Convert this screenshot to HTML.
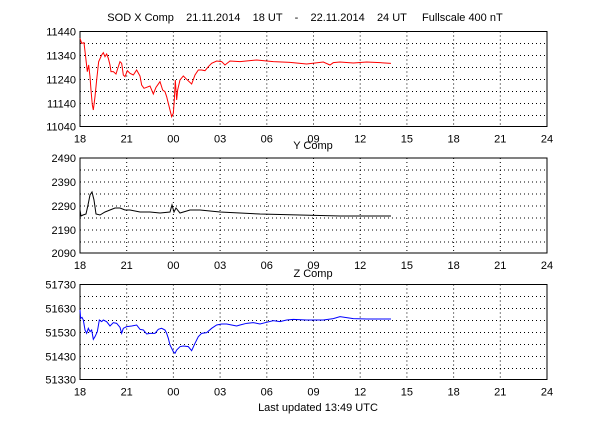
<!DOCTYPE html>
<html><head><meta charset="utf-8"><style>
html,body{margin:0;padding:0;background:#fff;width:610px;height:426px;overflow:hidden}
svg{font-family:"Liberation Sans",Arial,sans-serif;font-size:11px}
</style></head><body>
<svg width="610" height="426" viewBox="0 0 610 426" xmlns="http://www.w3.org/2000/svg">
<defs>
<g id="grid" stroke="#000" stroke-width="1" stroke-dasharray="1,3" fill="none">
<line x1="80" y1="12" x2="547" y2="12"/><line x1="80" y1="24" x2="547" y2="24"/><line x1="80" y1="36" x2="547" y2="36"/><line x1="80" y1="48" x2="547" y2="48"/><line x1="80" y1="60" x2="547" y2="60"/><line x1="80" y1="72" x2="547" y2="72"/><line x1="80" y1="84" x2="547" y2="84"/>
<line x1="126.7" y1="0" x2="126.7" y2="95"/><line x1="173.4" y1="0" x2="173.4" y2="95"/><line x1="220.1" y1="0" x2="220.1" y2="95"/><line x1="266.8" y1="0" x2="266.8" y2="95"/><line x1="313.5" y1="0" x2="313.5" y2="95"/><line x1="360.2" y1="0" x2="360.2" y2="95"/><line x1="406.9" y1="0" x2="406.9" y2="95"/><line x1="453.6" y1="0" x2="453.6" y2="95"/><line x1="500.3" y1="0" x2="500.3" y2="95"/>
</g>
<g id="xt" text-anchor="middle">
<text x="80" y="111">18</text><text x="126.7" y="111">21</text><text x="173.4" y="111">00</text><text x="220.1" y="111">03</text><text x="266.8" y="111">06</text><text x="313.5" y="111">09</text><text x="360.2" y="111">12</text><text x="406.9" y="111">15</text><text x="453.6" y="111">18</text><text x="500.3" y="111">21</text><text x="547" y="111">24</text>
</g>
</defs>
<text x="305" y="21" text-anchor="middle" xml:space="preserve">SOD X Comp    21.11.2014    18 UT    -    22.11.2014    24 UT     Fullscale 400 nT</text>

<g transform="translate(0,31.5)">
<use href="#grid"/>
<rect x="80" y="0" width="467" height="95" fill="none" stroke="#000"/>
<use href="#xt"/>
<g text-anchor="end"><text x="76" y="4">11440</text><text x="76" y="28">11340</text><text x="76" y="52">11240</text><text x="76" y="76">11140</text><text x="76" y="99">11040</text></g>
</g>
<polyline transform="translate(40,0) scale(0.3333)" vector-effect="non-scaling-stroke" fill="none" stroke="#f00" stroke-width="1" points="120,115 125,130 132,128 138,180 142,215 146,195 150,230 153,270 157,315 160,330 165,290 170,240 176,185 185,165 190,158 195,170 200,162 205,175 210,195 213,215 220,215 228,222 235,200 240,185 245,190 250,225 255,230 262,212 270,220 280,225 290,210 300,228 305,255 312,265 320,262 330,258 340,282 348,262 360,245 368,270 375,275 380,290 385,310 390,330 395,350 400,340 403,300 406,240 410,300 413,270 420,240 430,228 440,238 455,252 465,225 475,210 485,210 495,212 505,200 515,190 530,183 545,185 555,195 570,183 600,185 650,180 700,185 750,187 800,192 850,186 870,195 880,188 900,186 940,189 980,186 1020,188 1053,190"/>
<text x="313" y="149" text-anchor="middle">Y Comp</text>

<g transform="translate(0,158)">
<use href="#grid"/>
<rect x="80" y="0" width="467" height="95" fill="none" stroke="#000"/>
<use href="#xt"/>
<g text-anchor="end"><text x="76" y="4">2490</text><text x="76" y="28">2390</text><text x="76" y="52">2290</text><text x="76" y="76">2190</text><text x="76" y="99">2090</text></g>
</g>
<polyline fill="none" stroke="#000" stroke-width="1" points="80,210 81,216 83,215 86,214 88,205 90,195 92,192 94,200 96,214 100,215 105,212 110,210 115,208 120,208 125,210 130,210 140,212 150,212 160,213 170,212 172,205 174,212 176,208 180,213 190,210 200,210 220,212 240,213 260,214 300,215 340,216 391,216"/>
<text x="313" y="277" text-anchor="middle">Z Comp</text>

<g transform="translate(0,284.5)">
<use href="#grid"/>
<rect x="80" y="0" width="467" height="95" fill="none" stroke="#000"/>
<use href="#xt"/>
<g text-anchor="end"><text x="76" y="4">51730</text><text x="76" y="28">51630</text><text x="76" y="52">51530</text><text x="76" y="76">51430</text><text x="76" y="99">51330</text></g>
</g>
<polyline transform="translate(40,240) scale(0.3333)" vector-effect="non-scaling-stroke" fill="none" stroke="#00f" stroke-width="1" points="120,210 122,235 126,232 130,240 135,270 140,280 145,265 150,275 155,270 160,298 165,290 172,275 178,240 185,245 190,240 200,245 210,258 220,248 230,250 240,262 245,280 250,265 260,260 275,258 290,255 300,268 310,270 320,282 330,280 345,280 355,268 365,265 375,270 380,280 385,295 390,315 395,325 400,335 405,340 410,330 420,320 430,318 445,320 455,332 465,310 475,290 485,280 500,278 515,265 530,255 545,252 560,252 575,255 590,258 600,255 620,250 640,248 660,252 680,247 700,242 720,245 740,240 760,238 800,240 850,240 880,236 900,230 940,236 980,237 1020,237 1053,237"/>
<text x="318" y="411" text-anchor="middle">Last updated  13:49 UTC</text>
</svg>
</body></html>
